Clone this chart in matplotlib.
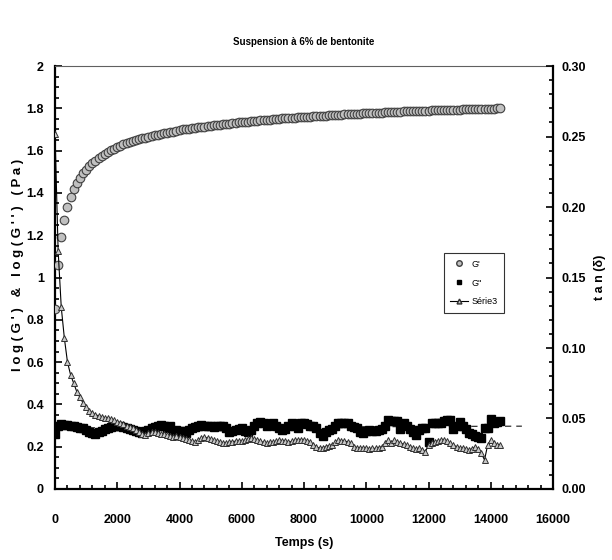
import matplotlib
matplotlib.use("Agg")
import matplotlib.pyplot as plt
from matplotlib.ticker import MultipleLocator, FormatStrFormatter, FuncFormatter
from matplotlib.lines import Line2D

plt.rcParams['font.family'] = ['Liberation Sans Narrow', 'Liberation Sans', 'DejaVu Sans']
plt.rcParams['font.weight'] = 'bold'

# Measurement times (s), one reading every 100 s
temps = list(range(0, 14400, 100))

# log(G') (Pa)
log_g1 = [
    0.85, 1.06, 1.19, 1.27, 1.335, 1.38, 1.42, 1.445, 1.47, 1.495,
    1.51, 1.525, 1.54, 1.552, 1.564, 1.575, 1.585, 1.594, 1.602, 1.610,
    1.617, 1.624, 1.630, 1.636, 1.641, 1.646, 1.650, 1.654, 1.658, 1.662,
    1.666, 1.669, 1.672, 1.675, 1.678, 1.681, 1.684, 1.687, 1.690, 1.694,
    1.698, 1.700, 1.702, 1.704, 1.706, 1.708, 1.710, 1.712, 1.714, 1.716,
    1.718, 1.720, 1.722, 1.723, 1.725, 1.727, 1.728, 1.730, 1.731, 1.733,
    1.734, 1.736, 1.737, 1.739, 1.740, 1.742, 1.743, 1.744, 1.746, 1.747,
    1.748, 1.749, 1.751, 1.752, 1.753, 1.754, 1.755, 1.756, 1.757, 1.758,
    1.759, 1.760, 1.761, 1.762, 1.763, 1.764, 1.765, 1.766, 1.767, 1.768,
    1.769, 1.770, 1.770, 1.771, 1.772, 1.773, 1.774, 1.774, 1.775, 1.776,
    1.777, 1.777, 1.778, 1.779, 1.780, 1.780, 1.781, 1.782, 1.782, 1.783,
    1.784, 1.784, 1.785, 1.785, 1.786, 1.787, 1.787, 1.788, 1.788, 1.789,
    1.789, 1.790, 1.790, 1.791, 1.791, 1.792, 1.792, 1.793, 1.793, 1.794,
    1.794, 1.795, 1.795, 1.796, 1.796, 1.797, 1.797, 1.797, 1.798, 1.798,
    1.799, 1.799, 1.800, 1.800,
]

# log(G'') (Pa)
log_g2 = [
    0.26, 0.30, 0.305, 0.303, 0.302, 0.30, 0.298, 0.295, 0.29, 0.288,
    0.28, 0.27, 0.265, 0.262, 0.268, 0.275, 0.285, 0.29, 0.295, 0.298,
    0.30, 0.298, 0.295, 0.29, 0.285, 0.28, 0.275, 0.27, 0.265, 0.272,
    0.28, 0.29, 0.295, 0.30, 0.302, 0.30, 0.29, 0.30, 0.27, 0.28,
    0.275, 0.27, 0.265, 0.28, 0.29, 0.295, 0.30, 0.302, 0.30, 0.298,
    0.30, 0.295, 0.30, 0.298, 0.30, 0.29, 0.27, 0.275, 0.28, 0.285,
    0.29, 0.275, 0.27, 0.28, 0.30, 0.31, 0.315, 0.31, 0.30, 0.305,
    0.31, 0.30, 0.29, 0.28, 0.285, 0.30, 0.31, 0.30, 0.29, 0.31,
    0.31, 0.305, 0.30, 0.30, 0.29, 0.265, 0.25, 0.27, 0.28, 0.285,
    0.30, 0.31, 0.31, 0.31, 0.31, 0.30, 0.295, 0.29, 0.27, 0.265,
    0.275, 0.28, 0.275, 0.275, 0.28, 0.285, 0.30, 0.325, 0.32, 0.32,
    0.32, 0.285, 0.31, 0.30, 0.285, 0.27, 0.255, 0.28, 0.29, 0.29,
    0.22, 0.31, 0.31, 0.31, 0.31, 0.32, 0.325, 0.325, 0.285, 0.30,
    0.315, 0.30, 0.285, 0.265, 0.26, 0.25, 0.245, 0.24, 0.29, 0.29,
    0.33, 0.31, 0.315, 0.32,
]

# tan(delta), right axis
tan_delta = [
    0.252, 0.169, 0.129, 0.107, 0.090, 0.081, 0.075, 0.069, 0.065, 0.061,
    0.058, 0.0555, 0.054, 0.0525, 0.052, 0.051, 0.0507, 0.050, 0.0495, 0.049,
    0.0477, 0.0465, 0.0458, 0.045, 0.0443, 0.0435, 0.042, 0.0405, 0.039, 0.0383,
    0.0398, 0.0405, 0.0402, 0.0398, 0.0393, 0.0387, 0.0383, 0.0375, 0.037, 0.0375,
    0.0368, 0.036, 0.0353, 0.0345, 0.0342, 0.0336, 0.0345, 0.036, 0.037, 0.036,
    0.0353, 0.0345, 0.0338, 0.033, 0.0326, 0.0327, 0.033, 0.0336, 0.0339, 0.0338,
    0.0338, 0.0345, 0.0353, 0.036, 0.0353, 0.0345, 0.0338, 0.033, 0.0323, 0.033,
    0.033, 0.0338, 0.0345, 0.0342, 0.0338, 0.033, 0.0338, 0.0345, 0.0348, 0.0348,
    0.0348, 0.0342, 0.0336, 0.0315, 0.030, 0.0288, 0.0293, 0.030, 0.0308, 0.0312,
    0.033, 0.0348, 0.0342, 0.0339, 0.0336, 0.0323, 0.030, 0.0294, 0.0288, 0.0288,
    0.0288, 0.0285, 0.0288, 0.0288, 0.0293, 0.030, 0.0323, 0.0348, 0.0324, 0.0348,
    0.033, 0.0324, 0.0318, 0.0312, 0.030, 0.0288, 0.0285, 0.0288, 0.0278, 0.0264,
    0.0315, 0.0324, 0.0336, 0.0342, 0.0345, 0.0348, 0.0338, 0.0323, 0.0312, 0.030,
    0.0293, 0.0288, 0.0285, 0.0278, 0.0285, 0.030, 0.0285, 0.0252, 0.0206, 0.0312,
    0.0348, 0.0323, 0.0312, 0.0315,
]

# Linear trend of log(G'')
trend_t = [0, 15000]
trend_g2 = [0.289, 0.297]

fig = plt.figure(figsize=(6.12, 5.6), dpi=100)
ax = fig.add_axes([0.0899, 0.1268, 0.8137, 0.7553])
ax2 = ax.twinx()

ax.plot(trend_t, trend_g2, color='#303030', lw=0.9, ls=(0, (5, 4)), zorder=1)
ax.plot(temps, log_g2, ls='none', marker='s', ms=5.2, mfc='black', mec='black', zorder=3)
ax.plot(temps, log_g1, ls='none', marker='o', ms=6.2, mfc='#c0c0c0', mec='#404040', mew=0.8, zorder=3)

ax2.plot(temps, tan_delta, color='black', lw=0.8, marker='^', ms=5,
         mfc='#c8c8c8', mec='#303030', mew=0.7, zorder=2)

ax.set_xlim(0, 16000)
ax.set_ylim(0, 2)
ax2.set_ylim(0, 0.30)

ax.xaxis.set_major_locator(MultipleLocator(2000))
ax.xaxis.set_minor_locator(MultipleLocator(400))
ax.yaxis.set_major_locator(MultipleLocator(0.2))
ax.yaxis.set_minor_locator(MultipleLocator(0.05))
ax.yaxis.set_major_formatter(FuncFormatter(lambda v, p: f"{v:g}"))
ax2.yaxis.set_major_locator(MultipleLocator(0.05))
ax2.yaxis.set_minor_locator(MultipleLocator(0.01))
ax2.yaxis.set_major_formatter(FormatStrFormatter('%.2f'))

ax.tick_params(axis='x', which='both', direction='in', top=False, width=1.2,
               labelsize=9, pad=18)
ax.tick_params(axis='x', which='major', length=5)
ax.tick_params(axis='x', which='minor', length=3)
ax.tick_params(axis='y', which='both', direction='in', right=False, width=1.2,
               labelsize=9, pad=8)
ax.tick_params(axis='y', which='major', length=5)
ax.tick_params(axis='y', which='minor', length=3)
ax2.tick_params(axis='y', which='both', direction='in', width=1.2, labelsize=9, pad=6)
ax2.tick_params(axis='y', which='major', length=5)
ax2.tick_params(axis='y', which='minor', length=3)

for side in ('left', 'bottom'):
    ax.spines[side].set_linewidth(1.6)
    ax.spines[side].set_color('black')
ax.spines['top'].set_linewidth(0.8)
ax.spines['top'].set_color('#606060')
ax.spines['right'].set_visible(False)
for side in ('left', 'bottom', 'top'):
    ax2.spines[side].set_visible(False)
ax2.spines['right'].set_linewidth(1.6)
ax2.spines['right'].set_color('black')

fig.text(0.497, 0.925, "Suspension à 6% de bentonite", ha='center', va='center',
         fontsize=7, fontweight='bold')
ax.set_xlabel("Temps (s)", fontsize=9, fontweight='bold', labelpad=8)
ax.set_ylabel("l o g ( G ' )   &   l o g ( G ' ' )   ( P a )", fontsize=9.5,
              fontweight='bold')
ax.yaxis.set_label_coords(-0.062, 0.53)
ax2.set_ylabel("t a n (δ)", fontsize=9, fontweight='bold', labelpad=6)

handles = [
    Line2D([], [], ls='none', marker='o', ms=4, mfc='#c0c0c0', mec='#404040'),
    Line2D([], [], ls='none', marker='s', ms=3.5, mfc='black', mec='black'),
    Line2D([], [], color='black', lw=0.8, marker='^', ms=3.5, mfc='#c8c8c8', mec='#303030'),
]
leg = ax2.legend(handles, ["G'", "G''", "Série3"], loc='upper left',
                 bbox_to_anchor=(0.772, 0.568), frameon=True,
                 fancybox=False, edgecolor='black', handlelength=2.0,
                 borderpad=0.7, labelspacing=1.1, handletextpad=0.4,
                 prop={'size': 6.5, 'weight': 'normal'})
leg.get_frame().set_linewidth(0.8)

fig.savefig("out.png", dpi=100)
